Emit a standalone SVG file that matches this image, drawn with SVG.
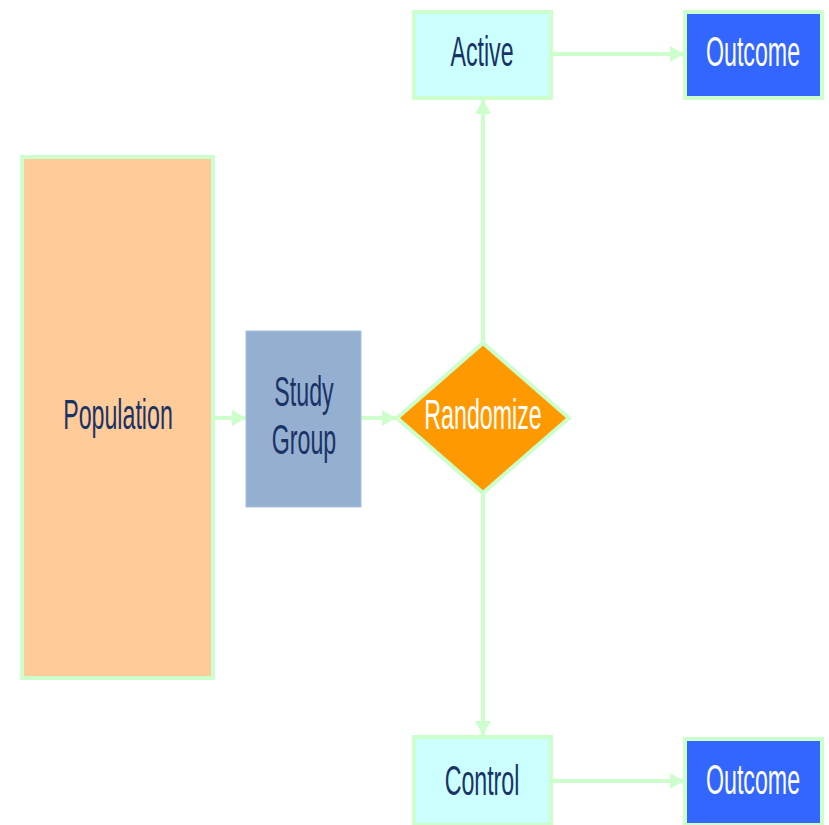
<svg xmlns="http://www.w3.org/2000/svg" width="829" height="825" viewBox="0 0 829 825">
  <style>
    .box { stroke: #ccffcc; stroke-width: 4; }
    .lbl { font-family: "Liberation Sans", Arial, sans-serif; font-size: 40px; text-anchor: middle; }
    .dark { fill: #1a3366; }
    .light { fill: #ffffff; }
    .conn { stroke: #ccffcc; stroke-width: 4; fill: none; marker-end: url(#arrow); }
  </style>
  <defs>
    <marker id="arrow" markerUnits="userSpaceOnUse" markerWidth="16" markerHeight="18" refX="14" refY="9" orient="auto">
      <path d="M0,1 L14,9 L0,17 Z" fill="#ccffcc"/>
    </marker>
  </defs>
  <rect width="829" height="825" fill="#ffffff"/>

  <g id="connectors">
    <line class="conn" x1="215" y1="418" x2="246" y2="418"/>
    <line class="conn" x1="361" y1="418" x2="396" y2="418"/>
    <line class="conn" x1="483" y1="342" x2="483" y2="100"/>
    <line class="conn" x1="483" y1="494" x2="483" y2="735"/>
    <line class="conn" x1="553" y1="54" x2="684" y2="54"/>
    <line class="conn" x1="553" y1="781" x2="684" y2="781"/>
  </g>

  <g id="population">
    <rect class="box" x="22" y="157" width="191" height="521" fill="#ffcc99"/>
    <text class="lbl dark" transform="translate(118,429) scale(0.58,1.06)">Population</text>
  </g>

  <g id="study-group">
    <rect x="246" y="331" width="115" height="176" fill="#95afd0" stroke="#a9c0dc" stroke-width="1"/>
    <text class="lbl dark" transform="translate(304,406) scale(0.58,1.06)">Study</text>
    <text class="lbl dark" transform="translate(304,454) scale(0.58,1.06)">Group</text>
  </g>

  <g id="randomize">
    <polygon class="box" points="483,343 569,418 483,493 397,418" fill="#ff9900"/>
    <text class="lbl light" transform="translate(483,429) scale(0.58,1.06)">Randomize</text>
  </g>

  <g id="active">
    <rect class="box" x="414" y="12" width="137" height="86" fill="#ccffff"/>
    <text class="lbl dark" transform="translate(482,66) scale(0.58,1.06)">Active</text>
  </g>

  <g id="outcome-active">
    <rect class="box" x="685" y="12" width="137" height="86" fill="#3366ff"/>
    <text class="lbl light" transform="translate(753,66) scale(0.58,1.06)">Outcome</text>
  </g>

  <g id="control">
    <rect class="box" x="414" y="737" width="137" height="88" fill="#ccffff"/>
    <text class="lbl dark" transform="translate(482,795) scale(0.58,1.06)">Control</text>
  </g>

  <g id="outcome-control">
    <rect class="box" x="685" y="739" width="137" height="86" fill="#3366ff"/>
    <text class="lbl light" transform="translate(753,794) scale(0.58,1.06)">Outcome</text>
  </g>
</svg>
